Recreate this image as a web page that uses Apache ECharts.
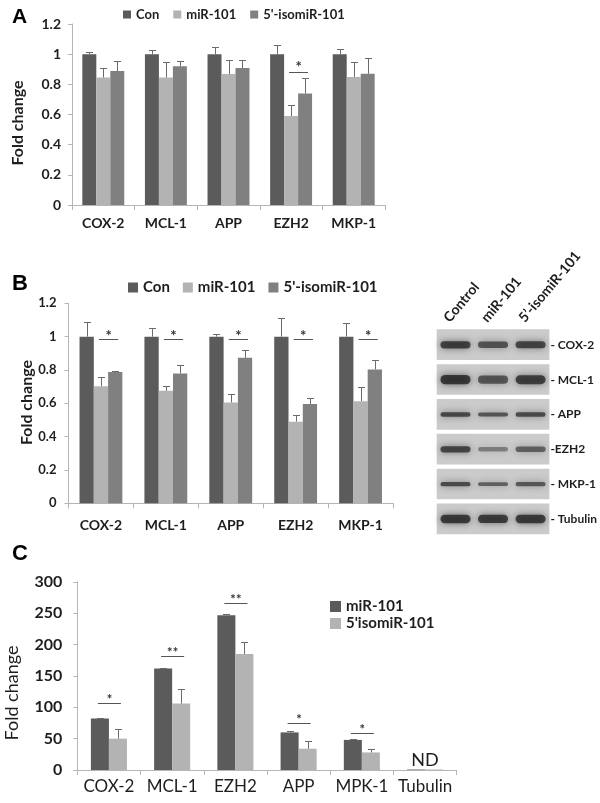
<!DOCTYPE html>
<html><head><meta charset="utf-8">
<script src="https://cdn.jsdelivr.net/npm/echarts@6/dist/echarts.min.js"></script>
<style>html,body{margin:0;padding:0;background:#fff}#c{width:600px;height:803px}</style>
</head><body><div id="c"></div>
<script>
// ---------- Panel A ----------
const catsA = ['COX-2','MCL-1','APP','EZH2','MKP-1'];
const conA = [1, 1, 1, 1, 1];
const conErrA = [1.012, 1.025, 1.045, 1.058, 1.035];
const mirA = [0.845, 0.845, 0.868, 0.59, 0.848];
const mirErrA = [0.91, 0.947, 0.96, 0.665, 0.948];
const isoA = [0.888, 0.92, 0.908, 0.74, 0.87];
const isoErrA = [0.952, 0.955, 0.96, 0.84, 0.975];
const sigLevelA = [null, null, null, 0.88, null];
const sigTextA = ['', '', '', '*', ''];
// ---------- Panel B ----------
const catsB = ['COX-2','MCL-1','APP','EZH2','MKP-1'];
const conB = [1, 1, 1, 1, 1];
const conErrB = [1.09, 1.053, 1.018, 1.112, 1.082];
const mirB = [0.703, 0.675, 0.605, 0.49, 0.613];
const mirErrB = [0.755, 0.703, 0.655, 0.527, 0.695];
const isoB = [0.788, 0.779, 0.873, 0.596, 0.803];
const isoErrB = [0.795, 0.829, 0.922, 0.629, 0.858];
const sigLevelB = [0.983, 0.983, 0.983, 0.983, 0.983];
const sigTextB = ['*', '*', '*', '*', '*'];
// ---------- Panel C ----------
const catsC = ['COX-2','MCL-1','EZH2','APP','MPK-1','Tubulin'];
const mirC = [82, 162, 247, 60, 48, 0.8];
const mirErrC = [83.5, 163.5, 248.5, 61.5, 49.5, null];
const isoC = [50, 106, 185, 34, 28, 0.8];
const isoErrC = [66, 129, 205, 46, 33, null];
const sigLevelC = [107, 182, 266, 75, 59, null];
const sigTextC = ['*', '**', '**', '*', '*', ''];
const noteLevelC = [null, null, null, null, null, 15];
const noteTextC = ['', '', '', '', '', 'ND'];
// ---------- Western blot ----------
const blotLanes = ['Control', 'miR-101', '5\u2019-isomiR-101'];
const blotProteins = ['COX-2','MCL-1','APP','EZH2','MKP-1','Tubulin'];
const blotRowLabels = ['- COX-2','- MCL-1','- APP','-EZH2','- MKP-1','- Tubulin'];
const blotIntensity = [
  [0.9, 0.72, 0.85],
  [0.97, 0.68, 0.9],
  [0.85, 0.72, 0.82],
  [0.85, 0.35, 0.6],
  [0.82, 0.62, 0.7],
  [0.95, 0.93, 0.95]
];

// ---------- styles ----------
const C_DARK = '#5b5b5b', C_LIGHT = '#b3b3b3', C_MID = '#808080';
const AXIS = '#b5b5b5', TXT = '#1e1e1e', ERR = '#6a6a6a';
const FONT = 'Lato, "Open Sans", sans-serif';
const GAP_A = 0.33, GAP_B = 0.34, GAP_C = 0.43;
const BAND_TH = [8, 10, 5, 7, 5, 9];

function barCenter(api, cat, k, n, gap) {
  const band = api.size([1, 0])[0];
  const bw = band * (1 - gap) / n;
  return api.coord([cat, 0])[0] + (k - (n - 1) / 2) * bw;
}
function errRows(list) {
  const rows = [];
  list.forEach((pair, k) => {
    pair[0].forEach((v, i) => { if (pair[1][i] != null) rows.push([i, k, v, pair[1][i]]); });
  });
  return rows;
}
function errSeries(xi, n, gap, rows) {
  return {
    type: 'custom', xAxisIndex: xi, yAxisIndex: xi, z: 5, silent: true, data: rows,
    renderItem(params, api) {
      const cat = api.value(0), k = api.value(1);
      const cx = Math.round(barCenter(api, cat, k, n, gap)) + 0.5;
      const y1 = api.coord([cat, api.value(2)])[1];
      const y2 = Math.round(api.coord([cat, api.value(3)])[1]) + 0.5;
      return { type: 'group', children: [
        { type: 'line', shape: { x1: cx, y1: y1, x2: cx, y2: y2 }, style: { stroke: ERR, lineWidth: 1 } },
        { type: 'line', shape: { x1: cx - 3.5, y1: y2, x2: cx + 3.5, y2: y2 }, style: { stroke: ERR, lineWidth: 1 } }
      ] };
    }
  };
}
function sigSeries(xi, n, gap, levels, texts, k1, k2, fs, dy) {
  const rows = [];
  levels.forEach((v, i) => { if (v != null) rows.push([i, v]); });
  return {
    type: 'custom', xAxisIndex: xi, yAxisIndex: xi, z: 6, silent: true, data: rows,
    renderItem(params, api) {
      const cat = api.value(0);
      const xa = barCenter(api, cat, k1, n, gap) - 2;
      const xb = barCenter(api, cat, k2, n, gap) + 3;
      const y = Math.round(api.coord([cat, api.value(1)])[1]) + 0.5;
      return { type: 'group', children: [
        { type: 'line', shape: { x1: xa, y1: y, x2: xb, y2: y }, style: { stroke: '#555', lineWidth: 1 } },
        { type: 'text', style: { text: texts[cat], x: (xa + xb) / 2, y: y + dy, align: 'center', verticalAlign: 'bottom',
          font: 'bold ' + fs + 'px ' + FONT, fill: '#333' } }
      ] };
    }
  };
}

const chart = echarts.init(document.getElementById('c'), null, { renderer: 'canvas' });

function catAxis(gi, data, fs, margin, weight) {
  return { type: 'category', gridIndex: gi, data: data,
    axisLine: { show: true, lineStyle: { color: AXIS, width: 1 } },
    axisTick: { show: true, length: 5, lineStyle: { color: AXIS } },
    axisLabel: { interval: 0, margin: margin, color: TXT, fontFamily: FONT, fontSize: fs, fontWeight: weight } };
}
function valAxis(gi, max, interval, fs, margin) {
  return { type: 'value', gridIndex: gi, min: 0, max: max, interval: interval,
    axisLine: { show: true, lineStyle: { color: AXIS, width: 1 } },
    axisTick: { show: true, length: 4, lineStyle: { color: AXIS } },
    splitLine: { show: false },
    axisLabel: { margin: margin, color: TXT, fontFamily: FONT, fontSize: fs, fontWeight: 'bold' } };
}

const legendText = (fs) => ({ color: TXT, fontFamily: FONT, fontSize: fs, fontWeight: 'bold' });

const option = {
  animation: false,
  backgroundColor: '#fff',
  grid: [
    { left: 72, top: 24, width: 313, height: 181 },
    { left: 68.5, top: 303.3, width: 324.5, height: 200 },
    { left: 436.7, top: 327.4, width: 115, height: 209 },
    { left: 77.3, top: 582, width: 379.4, height: 188 }
  ],
  xAxis: [
    catAxis(0, catsA, 14, 11, 'bold'),
    catAxis(1, catsB, 14, 15, 'bold'),
    { type: 'category', gridIndex: 2, data: blotLanes, position: 'top',
      axisLine: { show: false }, axisTick: { show: false }, axisLabel: { show: false } },
    catAxis(3, catsC, 17, 8, 'normal')
  ],
  yAxis: [
    valAxis(0, 1.2, 0.2, 14, 11),
    valAxis(1, 1.2, 0.2, 13, 12),
    { type: 'category', gridIndex: 2, data: blotProteins, inverse: true, position: 'right',
      axisLine: { show: false }, axisTick: { show: false }, splitLine: { show: false },
      axisLabel: { margin: 1, color: TXT, fontFamily: FONT, fontSize: 12, fontWeight: 'bold',
        formatter: (v, i) => blotRowLabels[i] } },
    valAxis(3, 300, 50, 16, 15)
  ],
  legend: [
    { left: 118, top: 3, itemWidth: 8, itemHeight: 8, itemGap: 14, icon: 'rect', selectedMode: false,
      textStyle: legendText(13), data: [
        { name: 'Con', itemStyle: { color: C_DARK } },
        { name: 'miR-101', itemStyle: { color: C_LIGHT } },
        { name: "5'-isomiR-101", itemStyle: { color: C_MID } }] },
    { left: 123, top: 275, itemWidth: 10, itemHeight: 10, itemGap: 13, icon: 'rect', selectedMode: false,
      textStyle: legendText(15), data: [
        { name: 'Con', itemStyle: { color: C_DARK } },
        { name: 'miR-101', itemStyle: { color: C_LIGHT } },
        { name: "5'-isomiR-101", itemStyle: { color: C_MID } }] },
    { left: 325, top: 594, orient: 'vertical', itemWidth: 11, itemHeight: 11, itemGap: 2, icon: 'rect', selectedMode: false,
      textStyle: legendText(15), data: [
        { name: 'miR-101', itemStyle: { color: C_DARK } },
        { name: "5'isomiR-101", itemStyle: { color: C_LIGHT } }] }
  ],
  graphic: [
    { type: 'text', x: 12, y: 17, style: { text: 'A', verticalAlign: 'middle', font: 'bold 21px "Liberation Sans", Arial, sans-serif', fill: '#000' } },
    { type: 'text', x: 12, y: 284, style: { text: 'B', verticalAlign: 'middle', font: 'bold 22px "Liberation Sans", Arial, sans-serif', fill: '#000' } },
    { type: 'text', x: 12, y: 554, style: { text: 'C', verticalAlign: 'middle', font: 'bold 22px "Liberation Sans", Arial, sans-serif', fill: '#000' } },
    { type: 'text', x: 17.5, y: 123, rotation: Math.PI / 2, style: { text: 'Fold change', align: 'center', verticalAlign: 'middle', font: 'bold 16px ' + FONT, fill: TXT } },
    { type: 'text', x: 26.5, y: 402.5, rotation: Math.PI / 2, style: { text: 'Fold change', align: 'center', verticalAlign: 'middle', font: 'bold 16px ' + FONT, fill: TXT } },
    { type: 'text', x: 12, y: 693, rotation: Math.PI / 2, style: { text: 'Fold change', align: 'center', verticalAlign: 'middle', font: '18px ' + FONT, fill: TXT } }
  ],
  series: [
    // Panel A
    { type: 'bar', name: 'Con', xAxisIndex: 0, yAxisIndex: 0, data: conA, barGap: '0%', barCategoryGap: (GAP_A * 100) + '%', itemStyle: { color: C_DARK } },
    { type: 'bar', name: 'miR-101', xAxisIndex: 0, yAxisIndex: 0, data: mirA, barGap: '0%', barCategoryGap: (GAP_A * 100) + '%', itemStyle: { color: C_LIGHT } },
    { type: 'bar', name: "5'-isomiR-101", xAxisIndex: 0, yAxisIndex: 0, data: isoA, barGap: '0%', barCategoryGap: (GAP_A * 100) + '%', itemStyle: { color: C_MID } },
    errSeries(0, 3, GAP_A, errRows([[conA, conErrA], [mirA, mirErrA], [isoA, isoErrA]])),
    sigSeries(0, 3, GAP_A, sigLevelA, sigTextA, 1, 2, 15, 2),
    // Panel B
    { type: 'bar', name: 'Con', xAxisIndex: 1, yAxisIndex: 1, data: conB, barGap: '0%', barCategoryGap: (GAP_B * 100) + '%', itemStyle: { color: C_DARK } },
    { type: 'bar', name: 'miR-101', xAxisIndex: 1, yAxisIndex: 1, data: mirB, barGap: '0%', barCategoryGap: (GAP_B * 100) + '%', itemStyle: { color: C_LIGHT } },
    { type: 'bar', name: "5'-isomiR-101", xAxisIndex: 1, yAxisIndex: 1, data: isoB, barGap: '0%', barCategoryGap: (GAP_B * 100) + '%', itemStyle: { color: C_MID } },
    errSeries(1, 3, GAP_B, errRows([[conB, conErrB], [mirB, mirErrB], [isoB, isoErrB]])),
    sigSeries(1, 3, GAP_B, sigLevelB, sigTextB, 1, 2, 15, 4),
    // Western blot: membrane strips
    { type: 'custom', xAxisIndex: 2, yAxisIndex: 2, silent: true, z: 2,
      data: blotProteins.map((p, i) => [0, i]),
      renderItem(params, api) {
        const cs = params.coordSys;
        const cy = api.coord([0, api.value(1)])[1];
        const rh = api.size([0, 1])[1];
        return { type: 'rect', shape: { x: cs.x, y: cy - rh * 0.445, width: cs.width, height: rh * 0.88 },
          style: { fill: '#cbcbcb' } };
      } },
    // Western blot: bands
    { type: 'custom', xAxisIndex: 2, yAxisIndex: 2, silent: true, z: 3,
      data: (() => { const r = []; blotIntensity.forEach((row, p) => row.forEach((v, l) => r.push([l, p, v]))); return r; })(),
      renderItem(params, api) {
        const l = api.value(0), p = api.value(1), v = api.value(2);
        const pt = api.coord([l, p]);
        const w = api.size([1, 0])[0] * 0.8;
        const th = BAND_TH[p] * (0.5 + 0.45 * v);
        const col = 'rgba(30,30,30,' + (0.2 + 0.6 * v).toFixed(2) + ')';
        return { type: 'rect', shape: { x: pt[0] - w / 2, y: pt[1] - th / 2, width: w, height: th, r: th / 2 },
          style: { fill: col, shadowBlur: 7, shadowColor: col } };
      } },
    // Western blot: lane labels (rotated)
    { type: 'custom', xAxisIndex: 2, yAxisIndex: 2, silent: true, z: 4,
      data: blotLanes.map((n, l) => [l, 0]),
      renderItem(params, api) {
        const cs = params.coordSys;
        const l = api.value(0);
        const x = api.coord([l, 0])[0] - 9;
        return { type: 'text', x: x, y: cs.y - 7, rotation: 50 * Math.PI / 180,
          style: { text: blotLanes[l], x: 0, y: 0, align: 'left', verticalAlign: 'middle',
            font: 'bold 14px ' + FONT, fill: TXT } };
      } },
    // Panel C
    { type: 'bar', name: 'miR-101', xAxisIndex: 3, yAxisIndex: 3, data: mirC, barGap: '0%', barCategoryGap: (GAP_C * 100) + '%', itemStyle: { color: C_DARK } },
    { type: 'bar', name: "5'isomiR-101", xAxisIndex: 3, yAxisIndex: 3, data: isoC, barGap: '0%', barCategoryGap: (GAP_C * 100) + '%', itemStyle: { color: C_LIGHT } },
    errSeries(3, 2, GAP_C, errRows([[mirC, mirErrC], [isoC, isoErrC]])),
    sigSeries(3, 2, GAP_C, sigLevelC, sigTextC, 0, 1, 13, 3),
    { type: 'custom', xAxisIndex: 3, yAxisIndex: 3, silent: true, z: 6,
      data: noteLevelC.map((v, i) => [i, v]).filter(r => r[1] != null),
      renderItem(params, api) {
        const pt = api.coord([api.value(0), api.value(1)]);
        return { type: 'text', style: { text: noteTextC[api.value(0)], x: pt[0], y: pt[1], align: 'center', verticalAlign: 'middle',
          font: '18px ' + FONT, fill: TXT } };
      } }
  ]
};
chart.setOption(option);
</script>
</body></html>
